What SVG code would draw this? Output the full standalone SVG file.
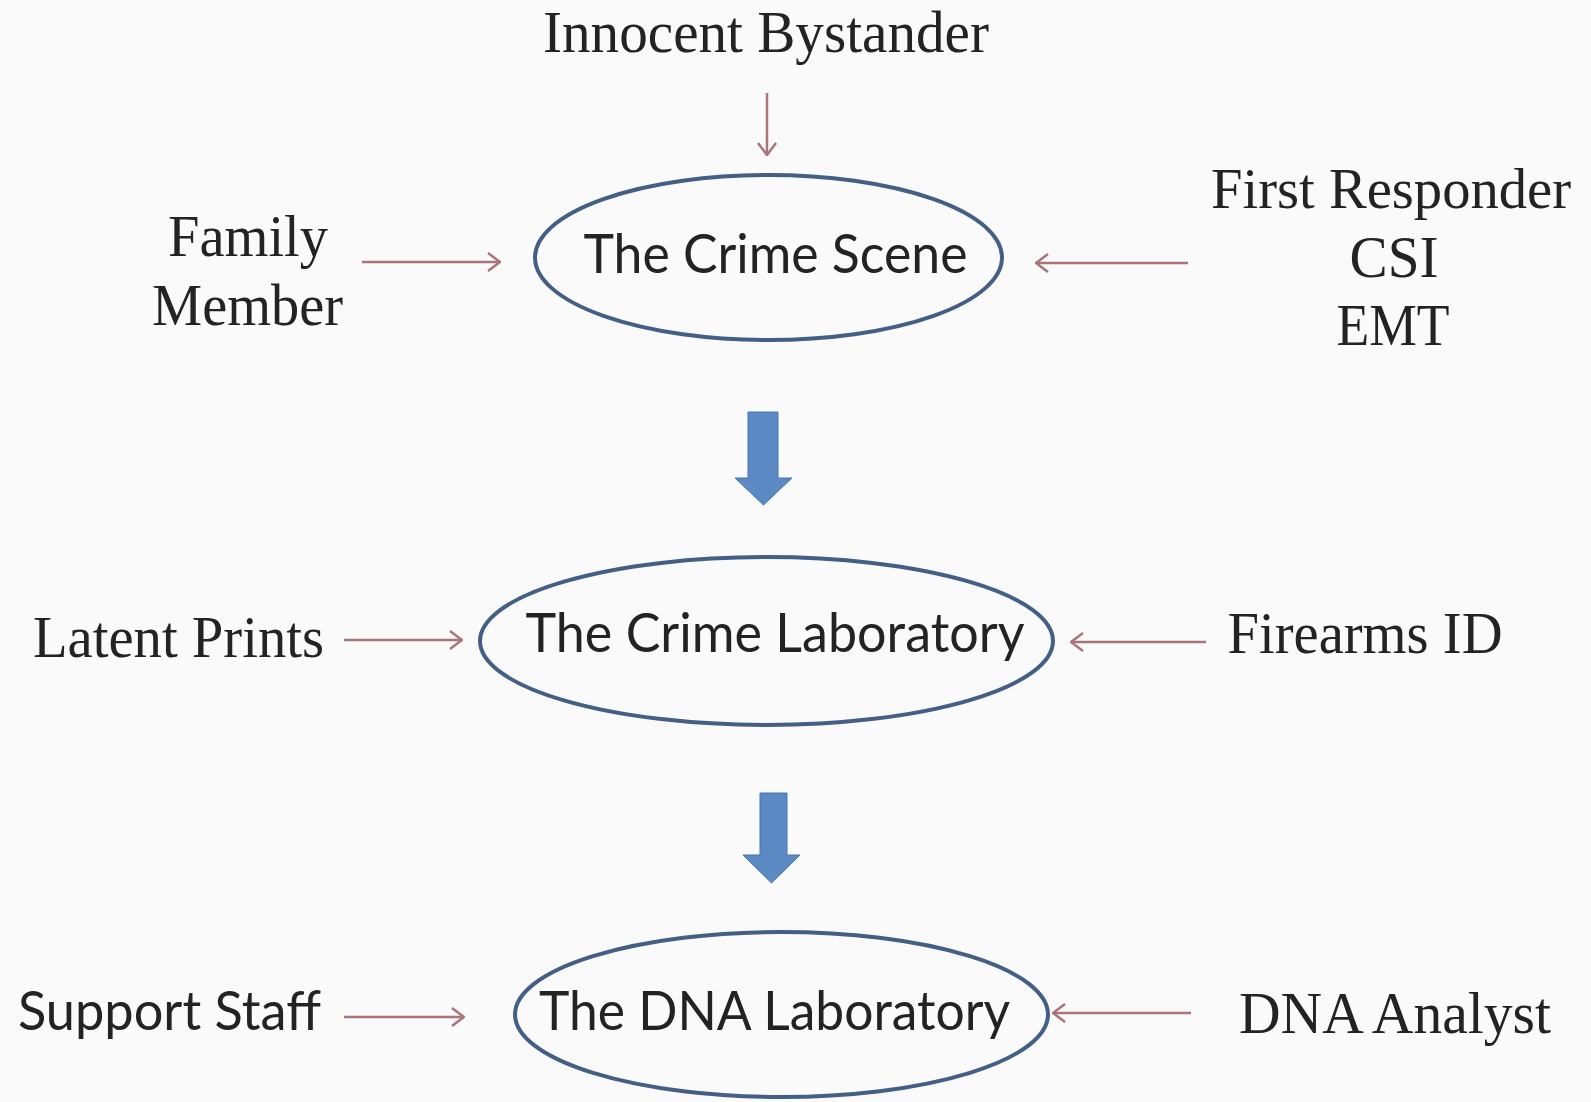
<svg xmlns="http://www.w3.org/2000/svg" width="1591" height="1102" viewBox="0 0 1591 1102">
  <style>
    .serif { font-family: "Liberation Serif", "Times New Roman", serif; font-size: 60px; fill: #232323; text-anchor: middle; }
    .sans { font-family: Lato, "Open Sans", "Liberation Sans", sans-serif; font-size: 54px; fill: #232323; text-anchor: middle; }
    .node { fill: none; stroke: #435f86; stroke-width: 4; }
    .conn { fill: none; stroke: #a8747a; stroke-width: 2.5; }
    .block { fill: #5a89c4; stroke: #4676b0; stroke-width: 1; }
  </style>
  <defs>
    <marker id="head" viewBox="0 0 14 20" refX="13" refY="10" markerWidth="14" markerHeight="20" markerUnits="userSpaceOnUse" orient="auto">
      <path d="M1,1 L13,10 L1,19" fill="none" stroke="#a8747a" stroke-width="2.5"/>
    </marker>
  </defs>
  <rect x="0" y="0" width="1591" height="1102" fill="#fafafa"/>

  <g id="connectors">
    <line class="conn" x1="767" y1="93" x2="767" y2="155" marker-end="url(#head)"/>
    <line class="conn" x1="362" y1="262" x2="500" y2="262" marker-end="url(#head)"/>
    <line class="conn" x1="1188" y1="263" x2="1036" y2="263" marker-end="url(#head)"/>
    <line class="conn" x1="344" y1="640" x2="462" y2="640" marker-end="url(#head)"/>
    <line class="conn" x1="1206" y1="642" x2="1071" y2="642" marker-end="url(#head)"/>
    <line class="conn" x1="344" y1="1017" x2="464" y2="1017" marker-end="url(#head)"/>
    <line class="conn" x1="1191" y1="1013" x2="1053" y2="1013" marker-end="url(#head)"/>
    <polygon class="block" points="748,412 778,412 778,478 792,478 763.5,505 735,478 748,478"/>
    <polygon class="block" points="760,793 787,793 787,855 800,855 771.5,883 743,855 760,855"/>
  </g>

  <g id="innocent-bystander">
    <text class="serif" x="766" y="52" textLength="446" lengthAdjust="spacingAndGlyphs">Innocent Bystander</text>
  </g>
  <g id="family-member">
    <text class="serif" x="248" y="256" textLength="160" lengthAdjust="spacingAndGlyphs">Family</text>
    <text class="serif" x="247.5" y="325" textLength="191" lengthAdjust="spacingAndGlyphs">Member</text>
  </g>
  <g id="first-responder">
    <text class="serif" x="1391" y="208" style="font-size:57px" textLength="360" lengthAdjust="spacingAndGlyphs">First Responder</text>
    <text class="serif" x="1394" y="277" textLength="89" lengthAdjust="spacingAndGlyphs">CSI</text>
    <text class="serif" x="1393" y="345" textLength="113" lengthAdjust="spacingAndGlyphs">EMT</text>
  </g>
  <g id="crime-scene">
    <ellipse class="node" cx="768.5" cy="257.5" rx="233.5" ry="82.5"/>
    <text class="sans" x="775.5" y="273" textLength="384" lengthAdjust="spacingAndGlyphs">The Crime Scene</text>
  </g>
  <g id="latent-prints">
    <text class="serif" x="178.5" y="657" textLength="291" lengthAdjust="spacingAndGlyphs">Latent Prints</text>
  </g>
  <g id="crime-laboratory">
    <ellipse class="node" cx="766.5" cy="641" rx="286.5" ry="84"/>
    <text class="sans" x="775" y="652" textLength="499" lengthAdjust="spacingAndGlyphs">The Crime Laboratory</text>
  </g>
  <g id="firearms-id">
    <text class="serif" x="1365" y="653" textLength="275" lengthAdjust="spacingAndGlyphs">Firearms ID</text>
  </g>
  <g id="support-staff">
    <text class="sans" x="169.5" y="1030" textLength="303" lengthAdjust="spacingAndGlyphs">Support Staff</text>
  </g>
  <g id="dna-laboratory">
    <ellipse class="node" cx="781.5" cy="1014.5" rx="266.5" ry="82.5"/>
    <text class="sans" x="774.5" y="1030" textLength="471" lengthAdjust="spacingAndGlyphs">The DNA Laboratory</text>
  </g>
  <g id="dna-analyst">
    <text class="serif" x="1395" y="1033" textLength="312" lengthAdjust="spacingAndGlyphs">DNA Analyst</text>
  </g>
</svg>
